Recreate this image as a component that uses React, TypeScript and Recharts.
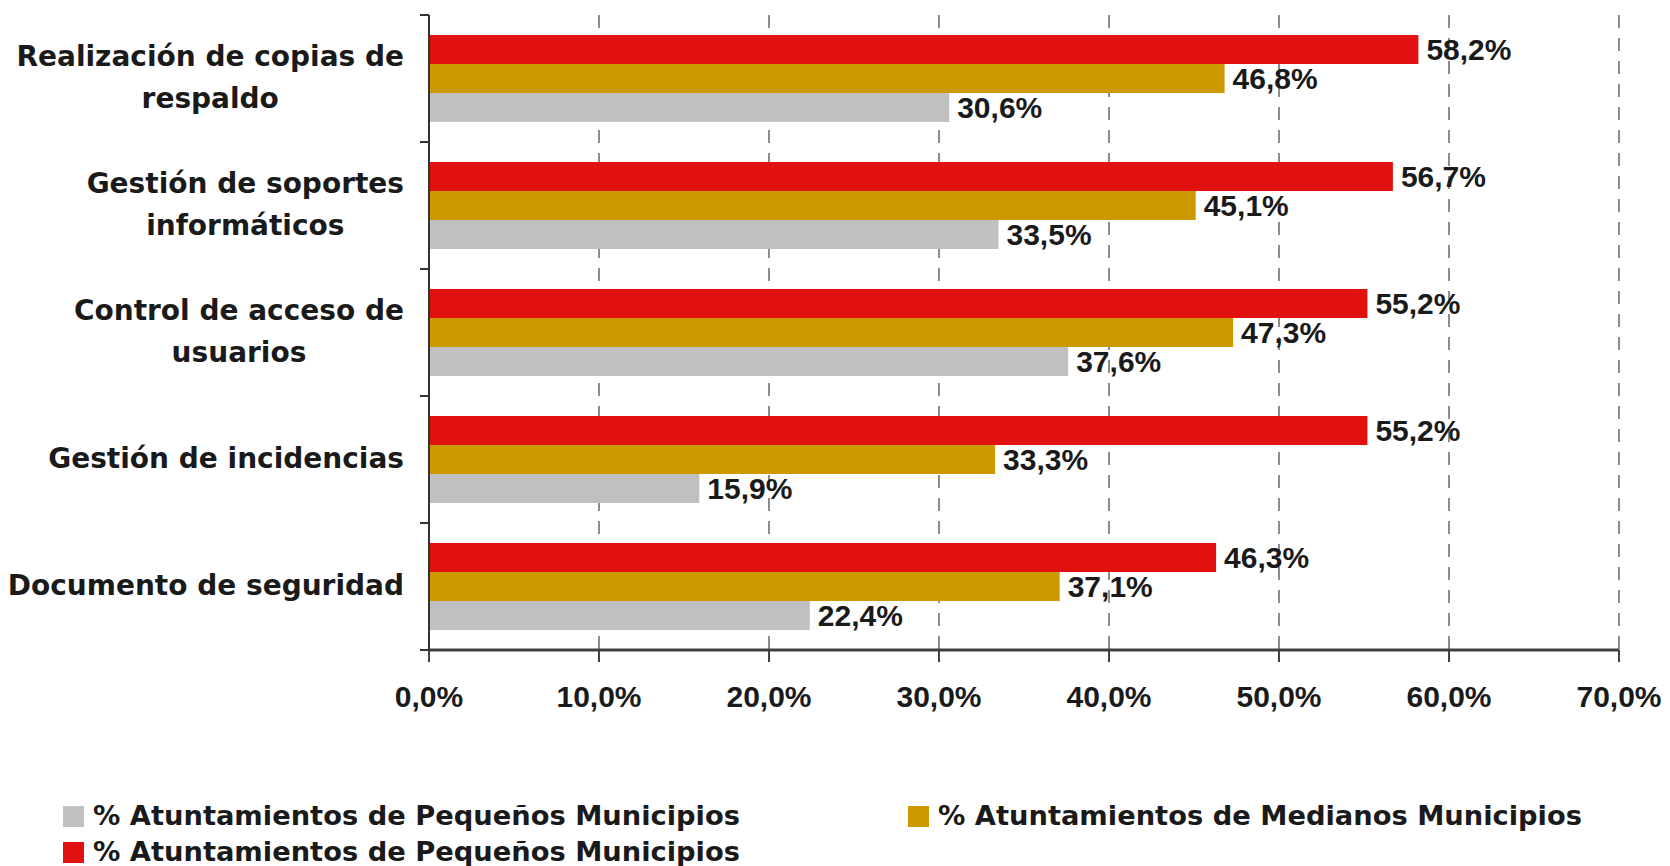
import { BarChart, Bar, XAxis, YAxis, CartesianGrid, LabelList } from 'recharts'

const categories = [
  'Realización de copias de\nrespaldo',
  'Gestión de soportes\ninformáticos',
  'Control de acceso de\nusuarios',
  'Gestión de incidencias',
  'Documento de seguridad',
]

const pequenos = [30.6, 33.5, 37.6, 15.9, 22.4]
const medianos = [46.8, 45.1, 47.3, 33.3, 37.1]
const pequenosRojo = [58.2, 56.7, 55.2, 55.2, 46.3]

const seriesNames = [
  '% Atuntamientos de Pequeños Municipios',
  '% Atuntamientos de Medianos Municipios',
  '% Atuntamientos de Pequeños Municipios',
]

const xTicks = [0, 10, 20, 30, 40, 50, 60, 70]

const GRAY = '#c0c0c0'
const GOLD = '#cc9900'
const RED = '#e0110e'

const data = categories.map((name, i) => ({
  name,
  pequenos: pequenos[i],
  medianos: medianos[i],
  rojo: pequenosRojo[i],
}))

const fmt = (v: number) => v.toFixed(1).replace('.', ',') + '%'

const labelFont = "bold 28px 'DejaVu Sans'"
let ctx: CanvasRenderingContext2D | null = null
function measure(text: string) {
  if (!ctx) ctx = document.createElement('canvas').getContext('2d')
  if (!ctx) return text.length * 16
  ctx.font = labelFont
  return ctx.measureText(text).width
}

function CategoryTick(props: any) {
  const { x, y, payload, index, visibleTicksCount } = props
  const half = payload.offset || 63.5
  const lines = String(payload.value).split('\n')
  const maxW = Math.max(...lines.map(measure))
  const cx = 404 - maxW / 2
  const lh = 42
  const startY = y - 2 - ((lines.length - 1) * lh) / 2
  return (
    <g>
      <line x1={x - 9} x2={x} y1={y - half} y2={y - half} stroke="#333" strokeWidth={2} />
      {index === visibleTicksCount - 1 && (
        <line x1={x - 9} x2={x} y1={y + half} y2={y + half} stroke="#333" strokeWidth={2} />
      )}
      {lines.map((l, i) => (
        <text
          key={i}
          x={cx}
          y={startY + i * lh}
          dy="0.36em"
          textAnchor="middle"
          fontFamily="DejaVu Sans"
          fontWeight="bold"
          fontSize={28}
          fill="#1a1a1a"
        >
          {l}
        </text>
      ))}
    </g>
  )
}

function PercentTick(props: any) {
  const { x, payload } = props
  return (
    <text
      x={x}
      y={696}
      dy="0.35em"
      textAnchor="middle"
      fontFamily="'Liberation Sans', Arial"
      fontWeight="bold"
      fontSize={30}
      fill="#1a1a1a"
    >
      {fmt(payload.value)}
    </text>
  )
}

const legendItems = [
  { name: seriesNames[0], color: GRAY, left: 63, top: 815 },
  { name: seriesNames[1], color: GOLD, left: 908, top: 815 },
  { name: seriesNames[2], color: RED, left: 63, top: 851 },
]

const labelStyle = {
  fontFamily: "'Liberation Sans', Arial",
  fontWeight: 'bold',
  fontSize: 30,
  fill: '#1a1a1a',
}

export default function App() {
  return (
    <div style={{ position: 'absolute', left: 0, top: 0, width: 1670, height: 866, background: '#fff' }}>
      <BarChart
        width={1670}
        height={866}
        data={data}
        layout="vertical"
        margin={{ top: 15, right: 51, bottom: 0, left: 0 }}
        barCategoryGap={20}
        barGap={0}
      >
        <CartesianGrid horizontal={false} stroke="#8c8c8c" strokeWidth={2} strokeDasharray="13 10" />
        <XAxis
          type="number"
          domain={[0, 70]}
          ticks={xTicks}
          height={216}
          axisLine={{ stroke: '#404040', strokeWidth: 3 }}
          tickLine={{ stroke: '#404040', strokeWidth: 2 }}
          tickSize={12}
          tick={<PercentTick />}
          interval={0}
        />
        <YAxis
          type="category"
          dataKey="name"
          width={429}
          axisLine={{ stroke: '#333', strokeWidth: 2 }}
          tickLine={false}
          tickSize={0}
          tickMargin={0}
          tick={<CategoryTick />}
          interval={0}
        />
        <Bar dataKey="rojo" fill={RED} isAnimationActive={false}>
          <LabelList dataKey="rojo" position="right" offset={8} formatter={(v: any) => fmt(Number(v))} style={labelStyle} />
        </Bar>
        <Bar dataKey="medianos" fill={GOLD} isAnimationActive={false}>
          <LabelList dataKey="medianos" position="right" offset={8} formatter={(v: any) => fmt(Number(v))} style={labelStyle} />
        </Bar>
        <Bar dataKey="pequenos" fill={GRAY} isAnimationActive={false}>
          <LabelList dataKey="pequenos" position="right" offset={8} formatter={(v: any) => fmt(Number(v))} style={labelStyle} />
        </Bar>
      </BarChart>
      {legendItems.map((it, i) => (
        <div
          key={i}
          style={{
            position: 'absolute',
            left: it.left,
            top: it.top - 18,
            height: 36,
            display: 'flex',
            alignItems: 'center',
            whiteSpace: 'nowrap',
            fontFamily: 'DejaVu Sans',
            fontWeight: 'bold',
            fontSize: 27.3,
            color: '#1a1a1a',
          }}
        >
          <span style={{ display: 'inline-block', width: 21, height: 21, background: it.color, marginRight: 9, marginTop: 3 }} />
          {it.name}
        </div>
      ))}
    </div>
  )
}
